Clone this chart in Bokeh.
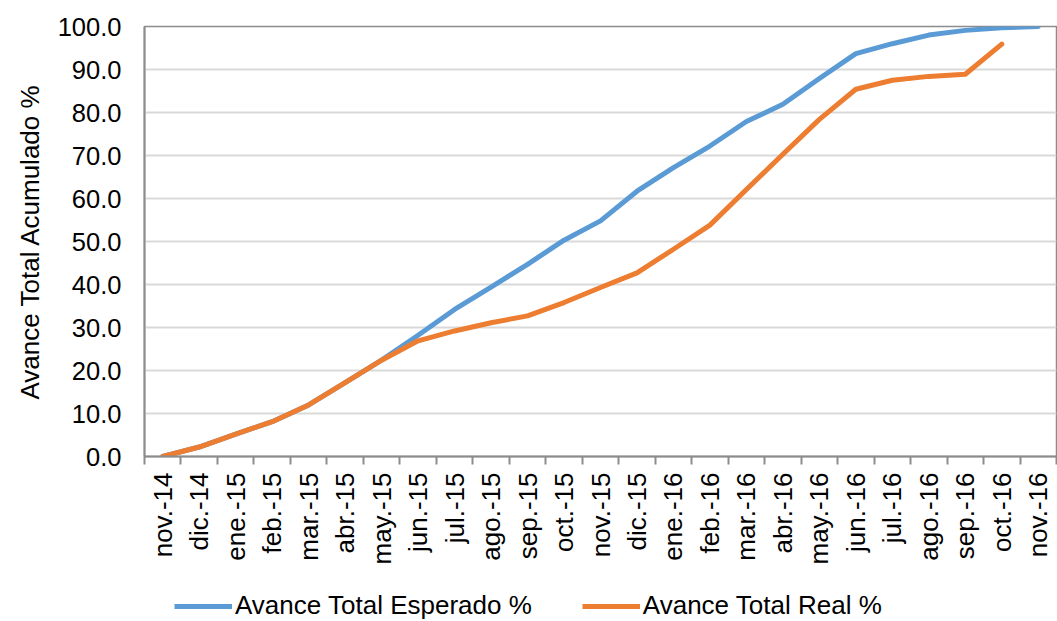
import math
from bokeh.plotting import figure
from bokeh.layouts import column
from bokeh.models import (FixedTicker, NumeralTickFormatter, Legend, LegendItem, Range1d)
from bokeh.embed import file_html
from bokeh.resources import INLINE

months = ["nov.-14", "dic.-14", "ene.-15", "feb.-15", "mar.-15", "abr.-15", "may.-15",
          "jun.-15", "jul.-15", "ago.-15", "sep.-15", "oct.-15", "nov.-15", "dic.-15",
          "ene.-16", "feb.-16", "mar.-16", "abr.-16", "may.-16", "jun.-16", "jul.-16",
          "ago.-16", "sep.-16", "oct.-16", "nov.-16"]

esperado = [0.0, 2.2, 5.2, 8.1, 12.0, 17.2, 22.4, 28.2, 34.2, 39.4, 44.7, 50.3, 54.8,
            61.7, 67.2, 72.2, 77.9, 81.9, 87.9, 93.7, 96.0, 98.0, 99.1, 99.7, 100.0]

real = [0.0, 2.2, 5.2, 8.1, 12.0, 17.2, 22.4, 26.9, 29.2, 31.1, 32.7, 35.8, 39.3,
        42.7, 48.2, 53.8, 62.1, 70.3, 78.4, 85.4, 87.5, 88.4, 88.9, 95.9]

series_names = ["Avance Total Esperado %", "Avance Total Real %"]

y_ticks = [0, 10, 20, 30, 40, 50, 60, 70, 80, 90, 100]

FONT = "Liberation Sans"
BLUE = "#5B9BD5"
ORANGE = "#ED7D31"
AXIS_GRAY = "#8C8C8C"

idx = list(range(len(months)))

p = figure(width=1057, height=580, output_backend="svg", toolbar_location=None,
           x_range=Range1d(-0.5, len(months) - 0.5), y_range=Range1d(0, 100),
           min_border_left=144, min_border_right=1, min_border_top=26,
           min_border_bottom=124)

p.outline_line_color = AXIS_GRAY
p.outline_line_width = 1.5

r1 = p.line(idx, esperado, line_color=BLUE, line_width=5,
            line_join="round", line_cap="round")
r2 = p.line(idx[:len(real)], real, line_color=ORANGE, line_width=5,
            line_join="round", line_cap="round")

# x axis
xa = p.xaxis[0]
xa.ticker = FixedTicker(ticks=idx, minor_ticks=[i - 0.5 for i in idx] + [len(months) - 0.5])
xa.major_label_overrides = {i: m for i, m in enumerate(months)}
xa.major_label_orientation = math.pi / 2
xa.major_tick_out = 0
xa.major_tick_in = 0
xa.minor_tick_out = 8
xa.minor_tick_in = 0
xa.minor_tick_line_color = AXIS_GRAY
xa.minor_tick_line_width = 2
xa.axis_line_color = AXIS_GRAY
xa.axis_line_width = 2
xa.major_label_standoff = 8
xa.major_label_text_font = FONT
xa.major_label_text_font_size = "26px"
xa.major_label_text_color = "#000000"

# y axis
ya = p.yaxis[0]
ya.ticker = FixedTicker(ticks=y_ticks)
ya.formatter = NumeralTickFormatter(format="0.0")
ya.major_tick_out = 0
ya.major_tick_in = 0
ya.minor_tick_line_color = None
ya.axis_line_color = AXIS_GRAY
ya.axis_line_width = 2
ya.major_label_standoff = 23
ya.major_label_text_font = FONT
ya.major_label_text_font_size = "25.5px"
ya.major_label_text_color = "#000000"
ya.axis_label = "Avance Total Acumulado %"
ya.axis_label_text_font = FONT
ya.axis_label_text_font_size = "26px"
ya.axis_label_text_font_style = "normal"
ya.axis_label_text_color = "#000000"
ya.axis_label_standoff = 10

p.xgrid.grid_line_color = None
p.ygrid.grid_line_color = "#D9D9D9"
p.ygrid.grid_line_width = 2
p.ygrid.ticker = FixedTicker(ticks=y_ticks)

# legend strip below the chart
pl = figure(width=1057, height=41, output_backend="svg", toolbar_location=None,
            x_range=Range1d(1000, 1001), y_range=Range1d(1000, 1001),
            min_border_left=0, min_border_right=0, min_border_top=0,
            min_border_bottom=0)
pl.axis.visible = False
pl.grid.visible = False
pl.outline_line_color = None
l1 = pl.line(idx, esperado, line_color=BLUE, line_width=5)
l2 = pl.line(idx[:len(real)], real, line_color=ORANGE, line_width=5)

legend = Legend(items=[LegendItem(label=series_names[0], renderers=[l1]),
                       LegendItem(label=series_names[1], renderers=[l2])],
                orientation="horizontal", location=(30, 0))
legend.label_text_font = FONT
legend.label_text_font_size = "26px"
legend.label_text_color = "#000000"
legend.glyph_width = 58
legend.glyph_height = 20
legend.label_standoff = 3
legend.spacing = 50
legend.padding = 0
legend.margin = 0
legend.border_line_color = None
legend.background_fill_alpha = 0
pl.add_layout(legend, "center")

layout = column(p, pl, spacing=0)
open("out.html", "w").write(file_html(layout, INLINE))
